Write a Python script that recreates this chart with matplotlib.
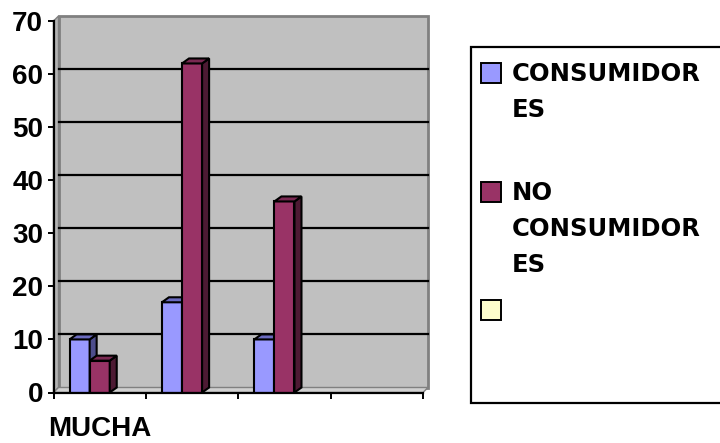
import numpy as np
import matplotlib
matplotlib.use("Agg")
import matplotlib.pyplot as plt
from matplotlib.patches import Polygon, Rectangle

categories = ["MUCHA", "", "", ""]
consumidores = [10, 17, 10, np.nan]
no_consumidores = [6, 62, 36, np.nan]
serie3 = [np.nan, np.nan, np.nan, np.nan]

series_labels = ["CONSUMIDOR\nES", "NO\nCONSUMIDOR\nES", ""]
y_ticks = [0, 10, 20, 30, 40, 50, 60, 70]

plt.rcParams["font.family"] = ["Liberation Sans", "DejaVu Sans"]
plt.rcParams["font.weight"] = "bold"

W, H = 720, 443
fig = plt.figure(figsize=(W / 100, H / 100), dpi=100)

# axes in pixels: x 53.5..423, y(0)=392.5, y(70)=21
ax_l, ax_r, ax_b, ax_t = 53.5, 423.0, 392.5, 21.0
ax = fig.add_axes([ax_l / W, 1 - ax_b / H, (ax_r - ax_l) / W, (ax_b - ax_t) / H])
ax.set_xlim(0, len(categories))
ax.set_ylim(0, 70)
ax.patch.set_visible(False)

px_x = (ax_r - ax_l) / len(categories)
px_y = (ax_b - ax_t) / 70.0

# 3D walls
wdx, wdy = 5 / px_x, 5 / px_y
n = len(categories)
wall = Polygon([(wdx, wdy), (n + wdx, wdy), (n + wdx, 70 + wdy), (wdx, 70 + wdy)],
               closed=True, facecolor="#C0C0C0", edgecolor="#808080", lw=2,
               clip_on=False, zorder=0)
ax.add_patch(wall)
side = Polygon([(0, 0), (0, 70), (wdx, 70 + wdy), (wdx, wdy)], closed=True,
               facecolor="#B4B4B4", edgecolor="#808080", lw=1, clip_on=False, zorder=0.5)
ax.add_patch(side)
floor = Polygon([(0, 0), (n, 0), (n + wdx, wdy), (wdx, wdy)], closed=True,
                facecolor="#D0D0D0", edgecolor="#808080", lw=1, clip_on=False, zorder=0.5)
ax.add_patch(floor)
for yv in y_ticks[1:-1]:
    ax.plot([wdx, n + wdx], [yv + wdy, yv + wdy], color="black", lw=1.6,
            clip_on=False, zorder=1)

# bars
n_series = 3
gap = 1.6
bw = 1.0 / (n_series + gap)
bdx, bdy = 7 / px_x, 5 / px_y
styles = [
    ("#9999FF", "#6B6BC0", "#4D4D8C"),
    ("#993366", "#7A2952", "#4D1A33"),
    ("#FFFFCC", "#D9D9A6", "#A6A680"),
]
z = 2
for k, vals in enumerate([consumidores, no_consumidores, serie3]):
    front, top, sidec = styles[k]
    for i, v in enumerate(vals):
        if np.isnan(v):
            continue
        xl = i + gap / 2 * bw + k * bw
        ax.bar(xl, v, width=bw, align="edge", color=front, edgecolor="black",
               lw=1.5, zorder=z)
        ax.add_patch(Polygon([(xl + bw, 0), (xl + bw, v), (xl + bw + bdx, v + bdy),
                              (xl + bw + bdx, bdy)], closed=True, facecolor=sidec,
                             edgecolor="black", lw=1.5, zorder=z, clip_on=False))
        ax.add_patch(Polygon([(xl, v), (xl + bw, v), (xl + bw + bdx, v + bdy),
                              (xl + bdx, v + bdy)], closed=True, facecolor=top,
                             edgecolor="black", lw=1.5, zorder=z, clip_on=False))
    z += 1

for s in ["top", "right"]:
    ax.spines[s].set_visible(False)
for s in ["left", "bottom"]:
    ax.spines[s].set_linewidth(1.6)
    ax.spines[s].set_zorder(10)

ax.set_yticks(y_ticks)
ax.set_yticklabels([str(t) for t in y_ticks], fontsize=20, fontweight="bold")
ax.tick_params(axis="y", length=4.5, width=1.4, pad=3)
ax.set_xticks(range(n + 1))
ax.set_xticklabels([])
ax.tick_params(axis="x", which="major", length=4.5, width=1.4)
ax.set_xticks(np.arange(n) + 0.5, minor=True)
ax.set_xticklabels(categories, minor=True, fontsize=20, fontweight="bold")
ax.tick_params(axis="x", which="minor", length=0, pad=17)


# legend drawn in figure pixels
def fx(x):
    return x / W


def fy(y):
    return 1 - y / H


frame = Rectangle((fx(471), fy(403)), fx(740) - fx(471), fy(47) - fy(403),
                  transform=fig.transFigure, facecolor="white", edgecolor="black",
                  lw=1.6, zorder=0)
fig.add_artist(frame)

entry_tops = [62.5, 181.5, 299.5]
line_h = 35.8
for k, lab in enumerate(series_labels):
    top = entry_tops[k]
    fig.add_artist(Rectangle((fx(481), fy(top + 20)), fx(20), fy(0) - fy(20),
                             transform=fig.transFigure, facecolor=styles[k][0],
                             edgecolor="black", lw=1.4))
    for j, line in enumerate(lab.split("\n")):
        if not line:
            continue
        fig.text(fx(511.5), fy(top + 18.5 + j * line_h), line, fontsize=17.5,
                 family="DejaVu Sans", fontweight="bold", ha="left", va="baseline")

fig.savefig("out.png", dpi=100)
